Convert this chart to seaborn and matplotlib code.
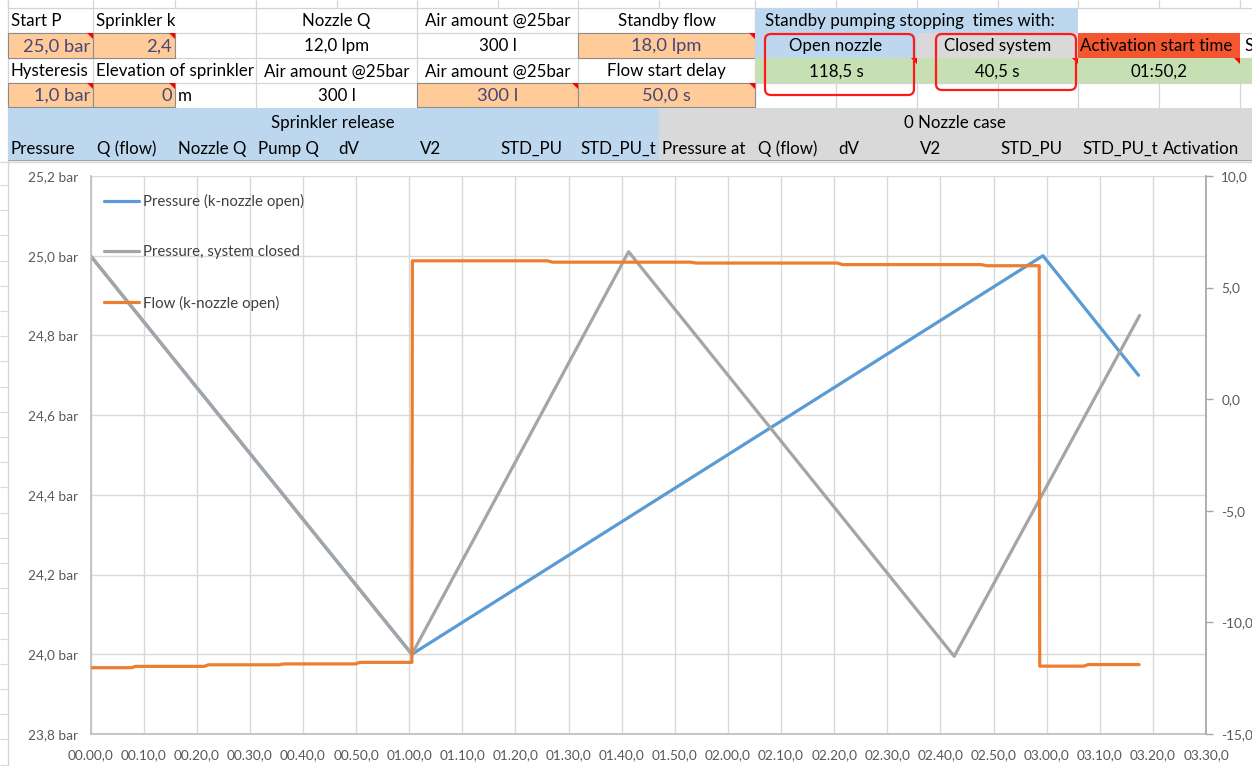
import matplotlib
matplotlib.use("Agg")
import matplotlib.pyplot as plt
import seaborn as sns
import numpy as np
import pandas as pd
from matplotlib.patches import Rectangle, FancyBboxPatch, Polygon
from matplotlib.lines import Line2D
from matplotlib.ticker import FixedLocator, FuncFormatter

# ---------------- data ----------------
# time in seconds
t_open = [0.0, 60.5, 179.3, 197.3]
p_open = [25.00, 24.00, 25.00, 24.70]

t_closed = [0.0, 60.5, 101.3, 162.6, 197.5]
p_closed = [25.00, 24.00, 25.01, 23.995, 24.85]

t_flow = [0.0, 7.7, 8.5, 21.4, 22.2, 35.5, 36.3, 49.9, 50.7, 60.5,
          60.6, 86.0, 87.0, 113.0, 114.0, 140.6, 141.6, 167.7, 168.7, 178.6,
          178.7, 187.0, 187.8, 197.4]
f_flow = [-12.03, -12.03, -11.97, -11.97, -11.90, -11.90, -11.86, -11.86, -11.79, -11.79,
          6.20, 6.20, 6.14, 6.14, 6.10, 6.10, 6.03, 6.03, 5.98, 5.98,
          -11.96, -11.96, -11.89, -11.89]

series_names = ["Pressure (k-nozzle open)", "Pressure, system closed", "Flow (k-nozzle open)"]
x_ticks = list(range(0, 211, 10))
y_ticks = [23.8, 24.0, 24.2, 24.4, 24.6, 24.8, 25.0, 25.2]
y2_ticks = [-15, -10, -5, 0, 5, 10]

# spreadsheet header texts
row1 = ["Start P", "Sprinkler k", "Nozzle Q", "Air amount @25bar", "Standby flow",
        "Standby pumping stopping  times with:"]
row2 = ["25,0 bar", "2,4", "12,0 lpm", "300 l", "18,0 lpm", "Open nozzle", "Closed system",
        "Activation start time"]
row3 = ["Hysteresis", "Elevation of sprinkler", "Air amount @25bar", "Air amount @25bar",
        "Flow start delay", "118,5 s", "40,5 s", "01:50,2"]
row4 = ["1,0 bar", "0", "m", "300 l", "300 l", "50,0 s"]
band_titles = ["Sprinkler release", "0 Nozzle case"]
col_headers = ["Pressure", "Q (flow)", "Nozzle Q", "Pump Q", "dV", "V2", "STD_PU", "STD_PU_t",
               "Pressure at", "Q (flow)", "dV", "V2", "STD_PU", "STD_PU_t", "Activation"]

# ---------------- styling ----------------
sns.set_theme(style="white")
plt.rcParams["font.family"] = ["Lato", "DejaVu Sans"]

BLUE = "#5B9BD5"
GRAY = "#A5A5A5"
ORANGE = "#ED7D31"
INPUT_FILL = "#FFCC99"
INPUT_TXT = "#4A4579"
LBLUE = "#BDD7EE"
LGRAY = "#D9D9D9"
GREEN = "#C6E0B4"
REDC = "#F4562F"
GRID = "#D4D4D4"

W, H = 1252, 766
fig = plt.figure(figsize=(W / 100, H / 100), dpi=100)
fig.patch.set_facecolor("white")

bg = fig.add_axes([0, 0, 1, 1], zorder=0)
bg.set_xlim(0, W)
bg.set_ylim(H, 0)
bg.axis("off")

cx = [8, 93, 175, 256, 337, 417, 498, 578, 659, 755, 836, 917, 998, 1078, 1159, 1240]
ry = [0, 7.5, 33.3, 58.3, 83.3, 107.5, 134, 160]


def rect(x0, y0, x1, y1, fc, ec="none", lw=0, z=1):
    bg.add_patch(Rectangle((x0, y0), x1 - x0, y1 - y0, facecolor=fc, edgecolor=ec, linewidth=lw, zorder=z))


def vline(x, y0, y1, c=GRID, lw=0.9):
    bg.plot([x, x], [y0, y1], color=c, lw=lw, zorder=0.5, solid_capstyle="butt")


def hline(y, x0, x1, c=GRID, lw=0.9):
    bg.plot([x0, x1], [y, y], color=c, lw=lw, zorder=0.5, solid_capstyle="butt")


# header gridlines
for y in ry[1:5]:
    hline(y, 8, W)
for x in cx:
    vline(x, 0, ry[1])
for x in [93, 256, 417, 578, 755]:
    vline(x, ry[1], ry[5])
for x in [836, 917, 998, 1078, 1159, 1240]:
    vline(x, ry[4], ry[5])
vline(8, 0, H)

FS = 12.2
FSI = 13.2
TXT = "#000000"


def txt(s, x, y, ha="left", color=TXT, fs=FS, z=3, clip=None):
    t = bg.text(x, y, s, ha=ha, va="center", color=color, fontsize=fs, zorder=z)
    if clip is not None:
        x0, y0, x1, y1 = clip
        cp = Rectangle((x0, y0), x1 - x0, y1 - y0, transform=bg.transData, facecolor="none",
                       edgecolor="none")
        t.set_clip_path(cp)
        t.set_clip_on(True)
    return t


def mid(a, b):
    return (ry[a] + ry[b]) / 2 + 0.5


# row 1
txt(row1[0], 11, mid(1, 2))
txt(row1[1], 96, mid(1, 2))
txt(row1[2], (256 + 417) / 2, mid(1, 2), "center")
txt(row1[3], (417 + 578) / 2, mid(1, 2), "center")
txt(row1[4], (578 + 755) / 2, mid(1, 2), "center")
rect(755, ry[1], 1078, ry[2], LBLUE)
txt(row1[5], 765, mid(1, 2))

# row 2
rect(8, ry[2], 93, ry[3], INPUT_FILL, "#8C8C8C", 0.8)
rect(93, ry[2], 175, ry[3], INPUT_FILL, "#8C8C8C", 0.8)
txt(row2[0], 90, mid(2, 3), "right", INPUT_TXT, FSI)
txt(row2[1], 172, mid(2, 3), "right", INPUT_TXT, FSI)
txt(row2[2], (256 + 417) / 2, mid(2, 3), "center")
txt(row2[3], (417 + 578) / 2, mid(2, 3), "center")
rect(578, ry[2], 755, ry[3], INPUT_FILL, "#8C8C8C", 0.8)
txt(row2[4], (578 + 755) / 2, mid(2, 3), "center", INPUT_TXT, FSI)
rect(755, ry[2], 917, ry[3], LBLUE)
txt(row2[5], (755 + 917) / 2, mid(2, 3), "center")
rect(917, ry[2], 1078, ry[3], LGRAY)
txt(row2[6], (917 + 1078) / 2, mid(2, 3), "center")
rect(1078, ry[2], 1240, ry[3], REDC)
txt(row2[7], 1080, mid(2, 3), clip=(1078, ry[2], 1241, ry[3]))
txt("S", 1244, mid(2, 3))

# row 3
txt(row3[0], 10, mid(3, 4))
txt(row3[1], 96, mid(3, 4), clip=(93, ry[3], 257, ry[4]))
txt(row3[2], (256 + 417) / 2, mid(3, 4), "center")
txt(row3[3], (417 + 578) / 2, mid(3, 4), "center")
txt(row3[4], (578 + 755) / 2, mid(3, 4), "center")
rect(755, ry[3], W, ry[4], GREEN)
txt(row3[5], (755 + 917) / 2, mid(3, 4), "center")
txt(row3[6], (917 + 1078) / 2, mid(3, 4), "center")
txt(row3[7], (1078 + 1240) / 2, mid(3, 4), "center")

# row 4
rect(8, ry[4], 93, ry[5], INPUT_FILL, "#8C8C8C", 0.8)
rect(93, ry[4], 175, ry[5], INPUT_FILL, "#8C8C8C", 0.8)
txt(row4[0], 90, mid(4, 5), "right", INPUT_TXT, FSI)
txt(row4[1], 172, mid(4, 5), "right", INPUT_TXT, FSI)
txt(row4[2], 178, mid(4, 5))
txt(row4[3], (256 + 417) / 2, mid(4, 5), "center")
rect(417, ry[4], 578, ry[5], INPUT_FILL, "#8C8C8C", 0.8)
txt(row4[4], (417 + 578) / 2, mid(4, 5), "center", INPUT_TXT, FSI)
rect(578, ry[4], 755, ry[5], INPUT_FILL, "#8C8C8C", 0.8)
txt(row4[5], (578 + 755) / 2, mid(4, 5), "center", INPUT_TXT, FSI)

# bands
rect(8, ry[5], 659, ry[7], LBLUE)
rect(659, ry[5], W, ry[7], LGRAY)
txt(band_titles[0], 333, mid(5, 6) + 2, "center")
txt(band_titles[1], 955, mid(5, 6) + 2, "center")
hx = [10, 97, 178, 258, 338, 420, 500, 580, 662, 758, 838, 920, 1000, 1082, 1163]
for s, x in zip(col_headers, hx):
    txt(s, x, mid(6, 7) + 1.5)
hline(ry[7], 8, W, "#A6A6A6", 1.0)

# comment indicators (small red triangles)
for (x, y) in [(93, ry[2]), (175, ry[2]), (755, ry[2]), (93, ry[4]), (175, ry[4]),
               (578, ry[4]), (755, ry[4]), (917, ry[3]), (1078, ry[3]), (1240, ry[3])]:
    bg.add_patch(Polygon([[x - 6, y], [x, y], [x, y + 6]], closed=True, facecolor="#FF0000",
                         edgecolor="none", zorder=4))

# hand-drawn red marks
bg.add_patch(FancyBboxPatch((765, 34), 149, 61, boxstyle="round,pad=0,rounding_size=6",
                            fill=False, edgecolor="#FF1A1A", lw=1.6, zorder=5))
bg.add_patch(FancyBboxPatch((936, 34), 140, 56, boxstyle="round,pad=0,rounding_size=6",
                            fill=False, edgecolor="#FF1A1A", lw=1.6, zorder=5))

# chart object frame and sheet row lines at the very left
hline(161.5, 0, W, "#D9D9D9", 1.0)
for y in np.arange(185, H, 25.2):
    hline(y, 0, 8, "#D9D9D9", 0.8)

# ---------------- chart ----------------
L, R, T, B = 90.5, 1206, 176, 734
ax = fig.add_axes([L / W, 1 - B / H, (R - L) / W, (B - T) / H], zorder=2)
ax.set_facecolor("white")

df_open = pd.DataFrame({"t": t_open, "p": p_open})
df_closed = pd.DataFrame({"t": t_closed, "p": p_closed})
df_flow = pd.DataFrame({"t": t_flow, "f": f_flow})

sns.lineplot(data=df_open, x="t", y="p", ax=ax, color=BLUE, lw=2.3, estimator=None, sort=False)
sns.lineplot(data=df_closed, x="t", y="p", ax=ax, color=GRAY, lw=2.3, estimator=None, sort=False)

ax.set_xlim(0, 210)
ax.set_ylim(23.8, 25.2)
ax.xaxis.set_major_locator(FixedLocator(x_ticks))
ax.yaxis.set_major_locator(FixedLocator(y_ticks))
ax.xaxis.set_major_formatter(FuncFormatter(lambda v, p: f"{int(v // 60):02d}.{int(v % 60):02d},0"))
ax.yaxis.set_major_formatter(FuncFormatter(lambda v, p: f"{v:.1f}".replace(".", ",") + " bar"))
ax.grid(True, color="#D9D9D9", lw=1.0)
ax.set_axisbelow(True)
ax.set_xlabel("")
ax.set_ylabel("")
for s in ["top", "right"]:
    ax.spines[s].set_visible(False)
ax.spines["left"].set_color("#BFBFBF")
ax.spines["bottom"].set_color("#BFBFBF")
ax.tick_params(axis="both", length=0, labelsize=9.8, labelcolor="#595959")
ax.tick_params(axis="x", pad=11)
ax.tick_params(axis="y", pad=9)

ax2 = ax.twinx()
sns.lineplot(data=df_flow, x="t", y="f", ax=ax2, color=ORANGE, lw=2.3, estimator=None, sort=False)
ax2.set_ylim(-15, 10)
ax2.yaxis.set_major_locator(FixedLocator(y2_ticks))
ax2.yaxis.set_major_formatter(FuncFormatter(lambda v, p: f"{v:.1f}".replace(".", ",")))
ax2.set_ylabel("")
ax2.grid(False)
for s in ["top", "left", "bottom"]:
    ax2.spines[s].set_visible(False)
ax2.spines["right"].set_color("#A6A6A6")
ax2.tick_params(axis="y", length=5, width=1, color="#A6A6A6", labelsize=9.8,
                labelcolor="#595959", pad=6)

handles = [Line2D([], [], color=c, lw=2.3) for c in [BLUE, GRAY, ORANGE]]
leg = ax2.legend(handles, series_names, loc="upper left",
                 bbox_to_anchor=(104 / W, 1 - 194 / H), bbox_transform=fig.transFigure,
                 frameon=False, fontsize=10.8, labelspacing=2.42, handlelength=2.3,
                 handletextpad=0.3, borderpad=0, borderaxespad=0)
for t in leg.get_texts():
    t.set_color("#404040")

fig.savefig("out.png", dpi=100)
